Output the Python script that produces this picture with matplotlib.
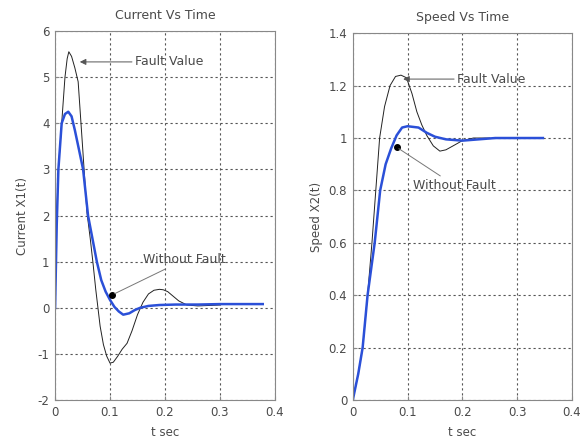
import matplotlib
matplotlib.use("Agg")
import matplotlib.pyplot as plt
import numpy as np

# ---- data ----
t_cur_fault = [0, 0.003, 0.006, 0.012, 0.018, 0.022, 0.025, 0.03, 0.036, 0.042, 0.05, 0.058, 0.064,
               0.069, 0.074, 0.078, 0.082, 0.088, 0.094, 0.1, 0.106, 0.114, 0.122, 0.131, 0.14,
               0.15, 0.16, 0.17, 0.18, 0.19, 0.197, 0.205, 0.215, 0.225, 0.24, 0.26, 0.28, 0.3]
cur_fault = [0, 2.0, 3.0, 4.0, 5.0, 5.4, 5.55, 5.45, 5.2, 4.9, 3.5, 2.07, 1.5,
             0.97, 0.4, 0.0, -0.4, -0.8, -1.05, -1.2, -1.18, -1.05, -0.9, -0.77, -0.5,
             -0.15, 0.12, 0.3, 0.38, 0.4, 0.39, 0.35, 0.25, 0.15, 0.06, 0.04, 0.05, 0.06]

t_cur_nofault = [0, 0.003, 0.006, 0.012, 0.018, 0.024, 0.03, 0.036, 0.044, 0.051, 0.06, 0.068,
                 0.076, 0.084, 0.092, 0.1, 0.108, 0.116, 0.124, 0.135, 0.145, 0.155, 0.17, 0.19,
                 0.22, 0.26, 0.3, 0.34, 0.378]
cur_nofault = [0, 1.8, 3.0, 4.0, 4.2, 4.25, 4.15, 3.85, 3.4, 3.0, 2.0, 1.5,
               1.0, 0.6, 0.35, 0.17, 0.02, -0.08, -0.15, -0.12, -0.05, 0.0, 0.04, 0.06,
               0.07, 0.07, 0.08, 0.08, 0.08]

t_spd_fault = [0, 0.01, 0.018, 0.027, 0.035, 0.042, 0.049, 0.058, 0.068, 0.078, 0.088, 0.098,
               0.108, 0.117, 0.126, 0.135, 0.147, 0.159, 0.17, 0.183, 0.2, 0.22, 0.25]
spd_fault = [0, 0.1, 0.2, 0.4, 0.6, 0.8, 1.0, 1.12, 1.2, 1.235, 1.24, 1.23,
             1.17, 1.1, 1.05, 1.01, 0.97, 0.95, 0.955, 0.97, 0.99, 1.0, 1.0]

t_spd_nofault = [0, 0.01, 0.018, 0.027, 0.04, 0.05, 0.06, 0.07, 0.08, 0.09, 0.1, 0.12,
                 0.135, 0.15, 0.17, 0.2, 0.23, 0.26, 0.3, 0.347]
spd_nofault = [0, 0.1, 0.2, 0.4, 0.6, 0.8, 0.9, 0.96, 1.01, 1.04, 1.045, 1.04,
               1.02, 1.005, 0.995, 0.99, 0.995, 1.0, 1.0, 1.0]

x_ticks = [0, 0.1, 0.2, 0.3, 0.4]
x_ticklabels = ["0", "0.1", "0.2", "0.3", "0.4"]
cur_ticks = [-2, -1, 0, 1, 2, 3, 4, 5, 6]
spd_ticks = [0, 0.2, 0.4, 0.6, 0.8, 1.0, 1.2, 1.4]
spd_ticklabels = ["0", "0.2", "0.4", "0.6", "0.8", "1", "1.2", "1.4"]

TXT = "#4a4a4a"
BLUE = "#2b50d8"
FS = 8.5

fig = plt.figure(figsize=(5.86, 4.43), dpi=100)
fig.patch.set_facecolor("white")

ax1 = fig.add_axes([0.094, 0.097, 0.375, 0.833])
ax2 = fig.add_axes([0.602, 0.097, 0.374, 0.828])

def style(ax):
    ax.grid(True, linestyle=(0, (2, 2.5)), color="#555555", linewidth=0.8)
    for s in ax.spines.values():
        s.set_color("#888888")
        s.set_linewidth(0.8)
    ax.tick_params(direction="in", length=3, colors="#888888", labelcolor=TXT,
                   labelsize=FS, pad=4)
    ax.set_xlim(0, 0.4)
    ax.set_xticks(x_ticks)
    ax.set_xticklabels(x_ticklabels)
    ax.set_xlabel("t sec", fontsize=FS, color=TXT, labelpad=5)

# Current
ax1.plot(t_cur_fault, cur_fault, color="#222222", linewidth=0.7)
ax1.plot(t_cur_nofault, cur_nofault, color=BLUE, linewidth=1.8)
ax1.set_ylim(-2, 6)
ax1.set_yticks(cur_ticks)
ax1.set_yticklabels([str(v) for v in cur_ticks])
style(ax1)
ax1.set_title("Current Vs Time", fontsize=9, color=TXT, pad=9)
ax1.set_ylabel("Current X1(t)", fontsize=FS, color=TXT, labelpad=6)
ax1.annotate("Fault Value", xy=(0.045, 5.33), xytext=(0.145, 5.33),
             fontsize=9, color=TXT, va="center", ha="left",
             arrowprops=dict(arrowstyle="-|>", color="#555555", lw=0.7,
                             mutation_scale=9, shrinkA=0, shrinkB=0))
ax1.plot([0.104], [0.28], "o", color="black", markersize=4)
ax1.annotate("Without Fault", xy=(0.104, 0.28), xytext=(0.16, 1.04),
             fontsize=9, color=TXT, va="center", ha="left",
             arrowprops=dict(arrowstyle="-", color="#777777", lw=0.7,
                             shrinkA=0, shrinkB=2))

# Speed
ax2.plot(t_spd_fault, spd_fault, color="#222222", linewidth=0.7)
ax2.plot(t_spd_nofault, spd_nofault, color=BLUE, linewidth=1.8)
ax2.set_ylim(0, 1.4)
ax2.set_yticks(spd_ticks)
ax2.set_yticklabels(spd_ticklabels)
style(ax2)
ax2.set_title("Speed Vs Time", fontsize=9, color=TXT, pad=9)
ax2.set_ylabel("Speed X2(t)", fontsize=FS, color=TXT, labelpad=4)
ax2.annotate("Fault Value", xy=(0.092, 1.225), xytext=(0.19, 1.225),
             fontsize=9, color=TXT, va="center", ha="left",
             arrowprops=dict(arrowstyle="-|>", color="#555555", lw=0.7,
                             mutation_scale=9, shrinkA=0, shrinkB=0))
ax2.plot([0.08], [0.965], "o", color="black", markersize=4)
ax2.annotate("Without Fault", xy=(0.08, 0.965), xytext=(0.11, 0.82),
             fontsize=9, color=TXT, va="center", ha="left",
             arrowprops=dict(arrowstyle="-", color="#777777", lw=0.7,
                             shrinkA=0, shrinkB=2))

fig.savefig("out.png", dpi=100, facecolor="white")
